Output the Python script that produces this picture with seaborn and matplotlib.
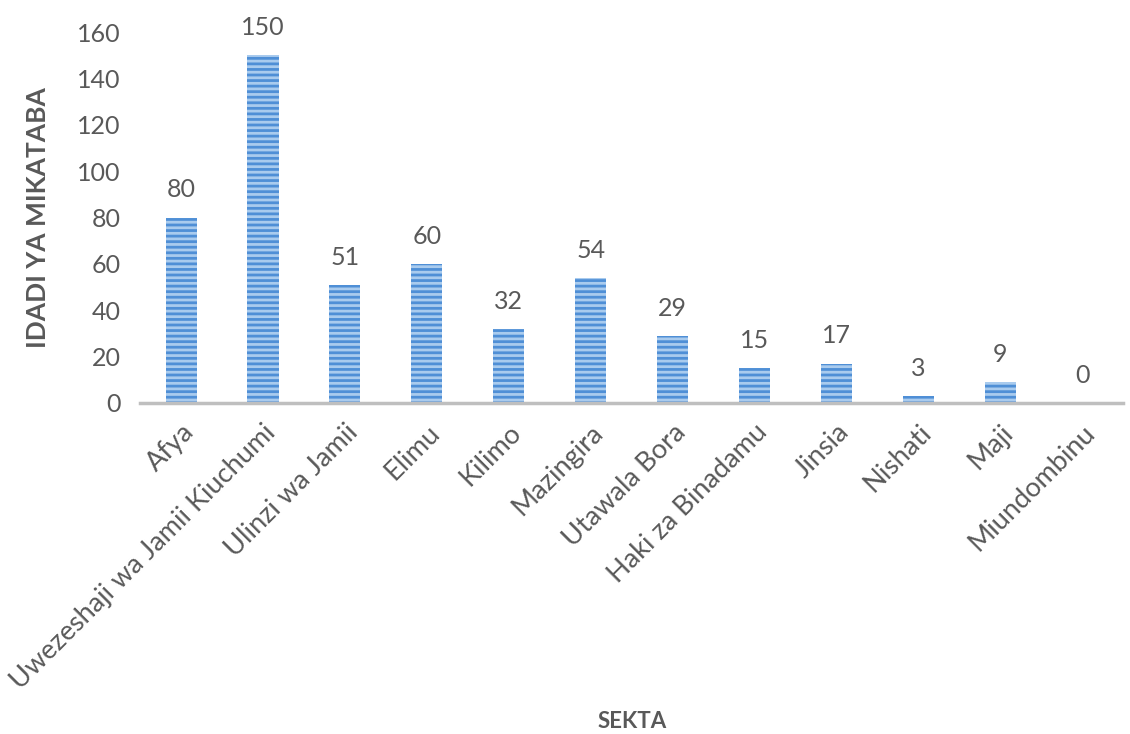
import matplotlib
matplotlib.use("Agg")
import matplotlib.pyplot as plt
import seaborn as sns
import pandas as pd

sectors = ["Afya", "Uwezeshaji wa Jamii Kiuchumi", "Ulinzi wa Jamii", "Elimu", "Kilimo",
           "Mazingira", "Utawala Bora", "Haki za Binadamu", "Jinsia", "Nishati", "Maji",
           "Miundombinu"]
contracts = [80, 150, 51, 60, 32, 54, 29, 15, 17, 3, 9, 0]
y_ticks = [0, 20, 40, 60, 80, 100, 120, 140, 160]

df = pd.DataFrame({"Sekta": sectors, "Mikataba": contracts})

sns.set_style("white")
plt.rcParams["font.family"] = ["Lato", "DejaVu Sans"]
plt.rcParams["hatch.linewidth"] = 2.0
gray = "#595959"
fs = 18

fig = plt.figure(figsize=(11.3, 7.34), dpi=100)
ax = fig.add_axes([0.124, 0.451, 0.87, 0.505])

sns.barplot(data=df, x="Sekta", y="Mikataba", color="#a9cbee", width=0.38,
            saturation=1, ax=ax)
for bar in ax.patches:
    bar.set_hatch("---")
    bar.set_edgecolor("#4f8fd6")
    bar.set_linewidth(0)

for i, v in enumerate(contracts):
    ax.text(i, v + 7, str(v), ha="center", va="bottom", fontsize=fs, color=gray)

ax.set_ylim(0, 160)
ax.set_xlim(-0.5, len(sectors) - 0.5)
ax.set_yticks(y_ticks)
ax.tick_params(axis="y", labelsize=fs, labelcolor=gray, length=0, pad=14)
ax.tick_params(axis="x", labelsize=19.5, labelcolor=gray, length=0, pad=12)
plt.setp(ax.get_xticklabels(), rotation=45, ha="right", rotation_mode="anchor")

for s in ["top", "right", "left"]:
    ax.spines[s].set_visible(False)
ax.spines["bottom"].set_color("#bfbfbf")
ax.spines["bottom"].set_linewidth(2.5)

ax.set_xlabel("SEKTA", fontsize=16, fontweight="bold", color=gray)
ax.xaxis.set_label_coords(0.5, -0.83)
ax.set_ylabel("IDADI YA MIKATABA", fontsize=19, fontweight="bold", color=gray)
ax.yaxis.set_label_coords(-0.092, 0.5)

fig.savefig("out.png", dpi=100)
